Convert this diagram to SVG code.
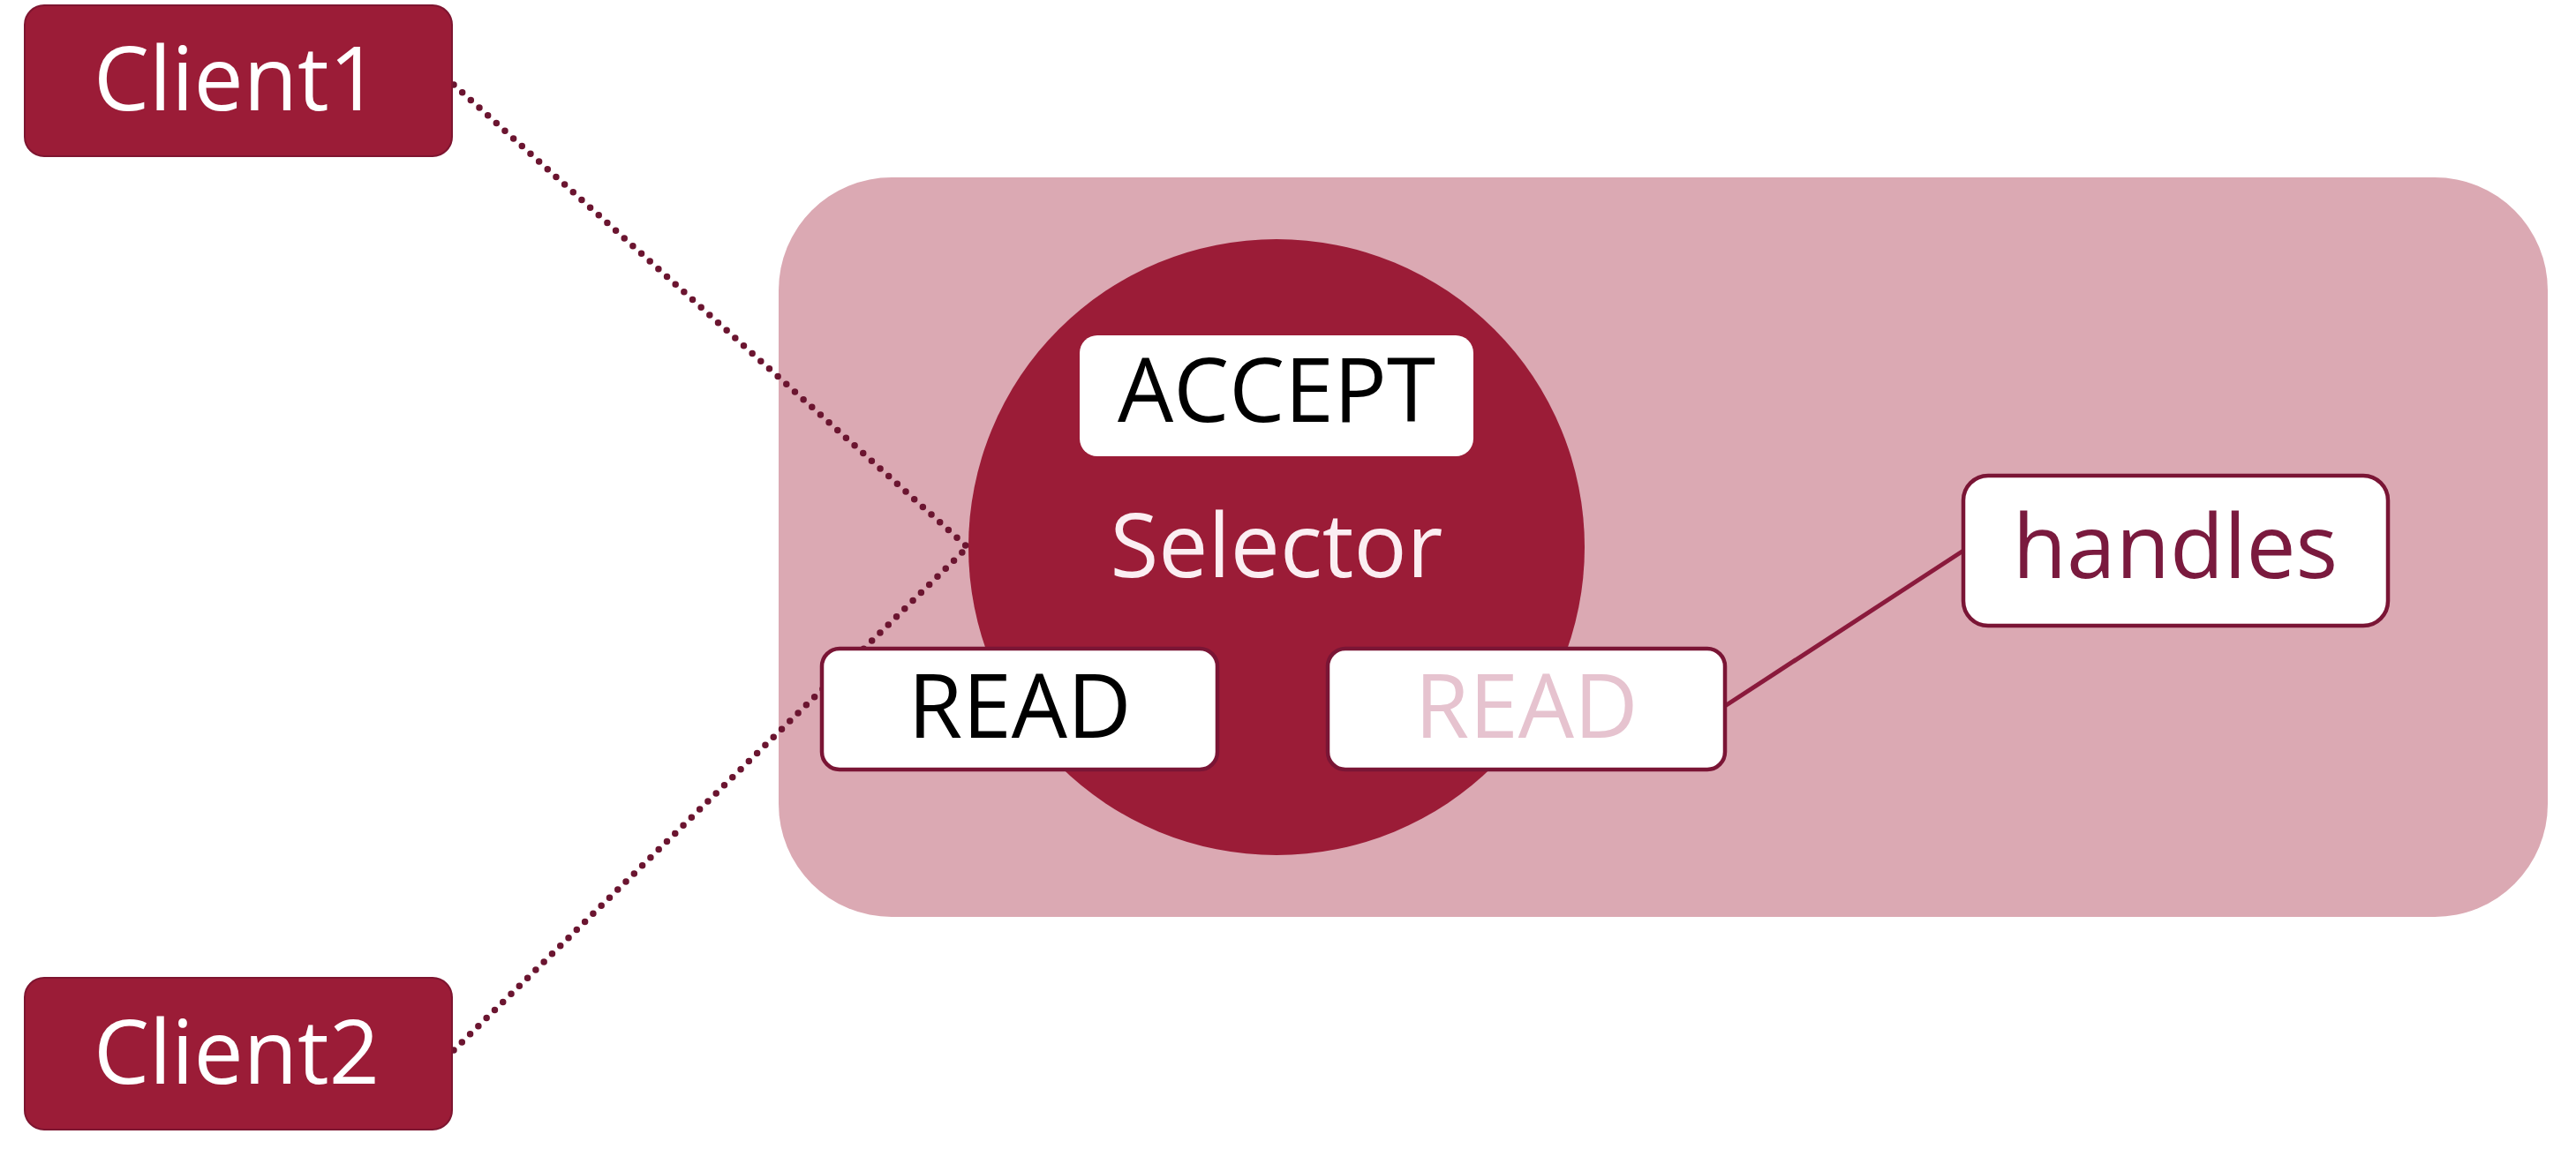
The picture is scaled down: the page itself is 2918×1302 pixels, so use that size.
<svg xmlns="http://www.w3.org/2000/svg" width="2918" height="1302" viewBox="0 0 2918 1302">
<style>
  .lbl { font-family: "Open Sans", "Noto Sans", "Liberation Sans", sans-serif; font-size: 100px; text-anchor: middle; }
  .client { fill: #9b1c37; stroke: #7e1530; stroke-width: 2; }
  .white { fill: #ffffff; }
  .bordered { fill: #ffffff; stroke: #7a1535; stroke-width: 4.5; }
  .dots { fill: none; stroke: #6b1530; stroke-width: 7.5; stroke-linecap: round; stroke-dasharray: 0 13; }
  .solid { fill: none; stroke: #8a1a3c; stroke-width: 5; }
</style>
<rect width="2918" height="1302" fill="#ffffff"/>
<g id="container">
  <rect x="882" y="201" width="2004" height="838" rx="128" ry="128" fill="#dba9b3"/>
</g>
<g id="selector">
  <circle cx="1446" cy="620" r="349" fill="#9b1c37"/>
  <text class="lbl" x="1446" y="654" fill="#fbeef2">Selector</text>
</g>
<g id="connectors">
  <line class="dots" x1="514" y1="96" x2="1096" y2="620"/>
  <line class="dots" x1="514" y1="1190" x2="1096" y2="620"/>
  <line class="solid" x1="1954" y1="800" x2="2224" y2="624"/>
</g>
<g id="client1">
  <rect class="client" x="28" y="6" width="484" height="171" rx="22"/>
  <text class="lbl" x="268" y="125" fill="#ffffff">Client1</text>
</g>
<g id="client2">
  <rect class="client" x="28" y="1108" width="484" height="172" rx="22"/>
  <text class="lbl" x="268" y="1228" fill="#ffffff">Client2</text>
</g>
<g id="accept">
  <rect class="white" x="1223" y="380" width="446" height="137" rx="20"/>
  <text class="lbl" x="1446" y="478" fill="#000000">ACCEPT</text>
</g>
<g id="read1">
  <rect class="bordered" x="931" y="735" width="448" height="137" rx="20"/>
  <text class="lbl" x="1155" y="836" fill="#000000">READ</text>
</g>
<g id="read2">
  <rect class="bordered" x="1504" y="735" width="450" height="137" rx="20"/>
  <text class="lbl" x="1729" y="836" fill="#e6c3cf">READ</text>
</g>
<g id="handles">
  <rect class="bordered" x="2224" y="539" width="481" height="170" rx="28"/>
  <text class="lbl" x="2464" y="655" fill="#7a1a3e">handles</text>
</g>
</svg>
